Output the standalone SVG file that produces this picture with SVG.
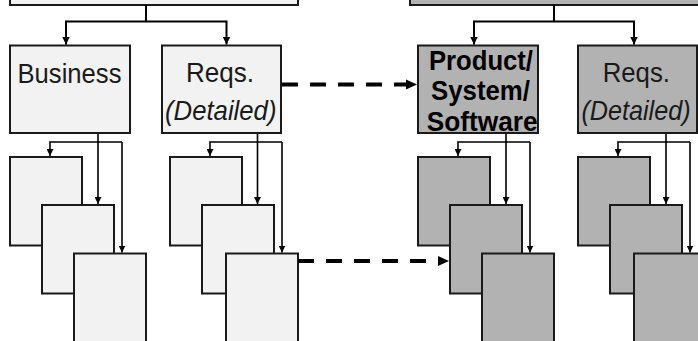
<svg xmlns="http://www.w3.org/2000/svg" width="698" height="341" viewBox="0 0 698 341">
  <style>
    .light { fill: #f2f2f2; stroke: #1a1a1a; stroke-width: 2; }
    .dark { fill: #b2b2b2; stroke: #1a1a1a; stroke-width: 2; }
    .label { font-family: "Liberation Sans", Arial, sans-serif; font-size: 28px; fill: #1a1a1a; }
    .it { font-style: italic; }
    .bold { font-weight: bold; fill: #000; }
    .wire { fill: none; stroke: #000; stroke-width: 2; }
    .thin { fill: none; stroke: #000; stroke-width: 1.6; }
    .dash { fill: none; stroke: #000; stroke-width: 4; stroke-dasharray: 16 12; }
  </style>
  <defs>
    <marker id="head" viewBox="0 0 8 8" refX="8" refY="4" markerWidth="8" markerHeight="8" markerUnits="userSpaceOnUse" orient="auto">
      <path d="M0,0 L8,4 L0,8 Z" fill="#000"/>
    </marker>
    <marker id="headS" viewBox="0 0 7 7" refX="7" refY="3.5" markerWidth="7" markerHeight="7" markerUnits="userSpaceOnUse" orient="auto">
      <path d="M0,0 L7,3.5 L0,7 Z" fill="#000"/>
    </marker>
  </defs>

  <!-- parent boxes (cut off at the top edge) -->
  <g id="parent-left"><rect class="light" x="10" y="-20" width="288" height="25"/></g>
  <g id="parent-right"><rect class="dark" x="410" y="-20" width="300" height="25"/></g>

  <!-- second level -->
  <g id="business">
    <rect class="light" x="10" y="45.5" width="120" height="87.5"/>
    <text class="label" x="17.5" y="82.5" textLength="104" lengthAdjust="spacingAndGlyphs">Business</text>
  </g>
  <g id="reqs-left">
    <rect class="light" x="162" y="45.5" width="119" height="87.5"/>
    <text class="label" x="186" y="82" textLength="68" lengthAdjust="spacingAndGlyphs">Reqs.</text>
    <text class="label it" x="165" y="120" textLength="111.5" lengthAdjust="spacingAndGlyphs">(Detailed)</text>
  </g>
  <g id="product">
    <rect class="dark" x="418" y="45.5" width="120" height="87.5"/>
    <text class="label bold" x="429" y="70" textLength="104" lengthAdjust="spacingAndGlyphs">Product/</text>
    <text class="label bold" x="431" y="100" textLength="99" lengthAdjust="spacingAndGlyphs">System/</text>
    <text class="label bold" x="426.7" y="131.3" textLength="111" lengthAdjust="spacingAndGlyphs">Software</text>
  </g>
  <g id="reqs-right">
    <rect class="dark" x="578" y="45.5" width="119" height="87.5"/>
    <text class="label" x="602.7" y="82" textLength="67.3" lengthAdjust="spacingAndGlyphs">Reqs.</text>
    <!-- narrowed with a scale so it stays inside the right edge -->
    <text class="label it" x="0" y="0" text-anchor="middle" transform="translate(636,120) scale(0.9,1)">(Detailed)</text>
  </g>

  <!-- third level: stacked documents -->
  <g id="business-docs">
    <rect class="light" x="10" y="157" width="72" height="88.5"/>
    <rect class="light" x="42" y="205" width="72" height="88.5"/>
    <rect class="light" x="74" y="253.5" width="72" height="100"/>
  </g>
  <g id="reqs-left-docs">
    <rect class="light" x="170" y="157" width="72" height="88.5"/>
    <rect class="light" x="202" y="205" width="72" height="88.5"/>
    <rect class="light" x="226" y="253.5" width="72" height="100"/>
  </g>
  <g id="product-docs">
    <rect class="dark" x="418" y="157" width="72" height="88.5"/>
    <rect class="dark" x="450" y="205" width="72" height="88.5"/>
    <rect class="dark" x="482" y="253.5" width="72" height="100"/>
  </g>
  <g id="reqs-right-docs">
    <rect class="dark" x="578" y="157" width="72" height="88.5"/>
    <rect class="dark" x="610" y="205" width="72" height="88.5"/>
    <rect class="dark" x="634" y="253.5" width="72" height="100"/>
  </g>

  <g id="connectors">
    <!-- parent to second level -->
    <path class="wire" d="M146,5 V21.5"/>
    <path class="wire" d="M146,21.5 H66 V44.5" marker-end="url(#head)"/>
    <path class="wire" d="M146,21.5 H226.5 V44.5" marker-end="url(#head)"/>
    <path class="wire" d="M554,5 V21.5"/>
    <path class="wire" d="M554,21.5 H474 V44.5" marker-end="url(#head)"/>
    <path class="wire" d="M554,21.5 H634 V44.5" marker-end="url(#head)"/>

    <!-- second level to documents -->
    <path class="thin" d="M98,134 V204" marker-end="url(#headS)"/>
    <path class="thin" d="M122,142 H50 V156" marker-end="url(#headS)"/>
    <path class="thin" d="M122,142 V252.5" marker-end="url(#headS)"/>

    <path class="thin" d="M257.5,134 V204" marker-end="url(#headS)"/>
    <path class="thin" d="M282,142 H210 V156" marker-end="url(#headS)"/>
    <path class="thin" d="M282,142 V252.5" marker-end="url(#headS)"/>

    <path class="thin" d="M506,134 V204" marker-end="url(#headS)"/>
    <path class="thin" d="M530,142 H458 V156" marker-end="url(#headS)"/>
    <path class="thin" d="M530,142 V252.5" marker-end="url(#headS)"/>

    <path class="thin" d="M666,134 V204" marker-end="url(#headS)"/>
    <path class="thin" d="M690,142 H618 V156" marker-end="url(#headS)"/>
    <path class="thin" d="M690,142 V252.5" marker-end="url(#headS)"/>

    <!-- cross links -->
    <path class="dash" d="M282,84.5 H406"/>
    <path d="M406,79.5 L417,84.5 L406,89.5 Z" fill="#000"/>
    <path class="dash" d="M298,261 H438"/>
    <path d="M438,256 L449,261 L438,266 Z" fill="#000"/>
  </g>
</svg>
